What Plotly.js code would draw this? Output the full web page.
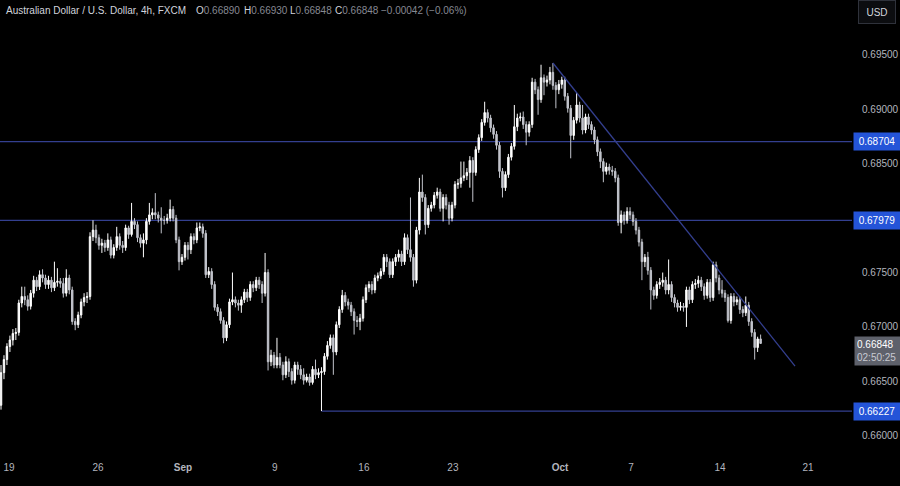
<!DOCTYPE html>
<html><head><meta charset="utf-8">
<script src="https://cdn.plot.ly/plotly-3.0.1.min.js"></script>
<style>html,body{margin:0;padding:0;background:#000;}#chart{width:900px;height:486px;}</style>
</head><body><div id="chart"></div>
<script>
const opens = [0.6628,0.6658,0.6670,0.6682,0.6688,0.6694,0.6695,0.6722,0.6728,0.6725,0.6719,0.6731,0.6743,0.6737,0.6748,0.6745,0.6739,0.6743,0.6736,0.6741,
0.6742,0.6740,0.6731,0.6745,0.6734,0.6705,0.6702,0.6711,0.6723,0.6727,0.6728,0.6783,0.6789,0.6782,0.6775,0.6777,0.6773,0.6780,0.6766,0.6773,
0.6783,0.6775,0.6773,0.6791,0.6785,0.6797,0.6794,0.6782,0.6777,0.6780,0.6797,0.6803,0.6805,0.6803,0.6800,0.6798,0.6798,0.6800,0.6808,0.6800,
0.6780,0.6760,0.6764,0.6775,0.6771,0.6783,0.6780,0.6791,0.6792,0.6786,0.6748,0.6751,0.6739,0.6718,0.6714,0.6706,0.6690,0.6702,0.6723,0.6725,
0.6722,0.6720,0.6725,0.6732,0.6727,0.6739,0.6736,0.6743,0.6739,0.6731,0.6750,0.6668,0.6674,0.6665,0.6672,0.6665,0.6656,0.6668,0.6659,0.6651,
0.6665,0.6661,0.6656,0.6651,0.6654,0.6649,0.6661,0.6656,0.6658,0.6659,0.6673,0.6683,0.6690,0.6677,0.6702,0.6716,0.6729,0.6723,0.6720,0.6714,
0.6706,0.6705,0.6708,0.6725,0.6736,0.6739,0.6734,0.6745,0.6747,0.6751,0.6764,0.6760,0.6748,0.6760,0.6764,0.6767,0.6760,0.6782,0.6771,0.6764,
0.6743,0.6789,0.6824,0.6819,0.6794,0.6809,0.6812,0.6821,0.6824,0.6809,0.6819,0.6812,0.6800,0.6812,0.6831,0.6832,0.6837,0.6839,0.6842,0.6853,
0.6842,0.6863,0.6874,0.6888,0.6897,0.6892,0.6883,0.6877,0.6867,0.6843,0.6828,0.6840,0.6856,0.6866,0.6884,0.6892,0.6893,0.6886,0.6879,0.6886,
0.6925,0.6918,0.6909,0.6929,0.6925,0.6927,0.6934,0.6922,0.6918,0.6923,0.6927,0.6912,0.6901,0.6876,0.6890,0.6904,0.6892,0.6881,0.6893,0.6886,
0.6881,0.6872,0.6861,0.6852,0.6843,0.6847,0.6844,0.6843,0.6837,0.6796,0.6803,0.6798,0.6806,0.6803,0.6797,0.6789,0.6778,0.6760,0.6764,0.6752,
0.6734,0.6729,0.6739,0.6741,0.6743,0.6734,0.6739,0.6727,0.6722,0.6718,0.6719,0.6718,0.6734,0.6725,0.6739,0.6740,0.6743,0.6737,0.6729,0.6741,
0.6727,0.6757,0.6745,0.6734,0.6731,0.6727,0.6706,0.6728,0.6723,0.6725,0.6716,0.6713,0.6720,0.6705,0.6695,0.6681,0.66890];
const highs = [0.6665,0.6674,0.6685,0.6692,0.6698,0.6699,0.6725,0.6737,0.6737,0.6729,0.6734,0.6747,0.6746,0.6752,0.6753,0.6748,0.6747,0.6746,0.6760,0.6754,
0.6745,0.6745,0.6753,0.6748,0.6737,0.6708,0.6714,0.6726,0.6731,0.6732,0.6787,0.6798,0.6794,0.6785,0.6781,0.6780,0.6786,0.6783,0.6776,0.6792,
0.6786,0.6779,0.6794,0.6793,0.6814,0.6800,0.6797,0.6785,0.6786,0.6800,0.6814,0.6809,0.6823,0.6806,0.6810,0.6802,0.6804,0.6817,0.6811,0.6803,
0.6783,0.6767,0.6778,0.6778,0.6786,0.6786,0.6796,0.6796,0.6795,0.6789,0.6755,0.6754,0.6742,0.6721,0.6717,0.6709,0.6705,0.6726,0.6750,0.6728,
0.6725,0.6728,0.6735,0.6735,0.6742,0.6742,0.6746,0.6746,0.6742,0.6768,0.6753,0.6679,0.6677,0.6690,0.6676,0.6668,0.6673,0.6671,0.6662,0.6668,
0.6668,0.6665,0.6662,0.6657,0.6657,0.6664,0.6670,0.6662,0.6663,0.6676,0.6687,0.6693,0.6693,0.6705,0.6719,0.6734,0.6732,0.6726,0.6723,0.6717,
0.6710,0.6712,0.6728,0.6739,0.6742,0.6742,0.6748,0.6750,0.6754,0.6767,0.6767,0.6763,0.6763,0.6767,0.6771,0.6770,0.6786,0.6785,0.6819,0.6767,
0.6792,0.6837,0.6840,0.6822,0.6812,0.6815,0.6824,0.6828,0.6827,0.6822,0.6822,0.6815,0.6815,0.6834,0.6836,0.6852,0.6852,0.6846,0.6857,0.6856,
0.6866,0.6877,0.6891,0.6907,0.6900,0.6895,0.6886,0.6880,0.6870,0.6846,0.6843,0.6859,0.6869,0.6904,0.6896,0.6897,0.6898,0.6889,0.6889,0.6929,
0.6928,0.6921,0.6941,0.6932,0.6931,0.6939,0.69426,0.6925,0.6927,0.6930,0.6930,0.6915,0.6904,0.6893,0.6915,0.6907,0.6904,0.6896,0.6896,0.6889,
0.6884,0.6875,0.6864,0.6855,0.6851,0.6850,0.6848,0.6846,0.6840,0.6807,0.6806,0.6810,0.6810,0.6806,0.6800,0.6792,0.6781,0.6767,0.6769,0.6755,
0.6737,0.6742,0.6745,0.6750,0.6746,0.6762,0.6742,0.6730,0.6725,0.6723,0.6722,0.6737,0.6737,0.6742,0.6744,0.6747,0.6746,0.6740,0.6744,0.6744,
0.6760,0.6760,0.6748,0.6743,0.6734,0.6730,0.6731,0.6731,0.6728,0.6728,0.6719,0.6728,0.6723,0.6708,0.6698,0.6691,0.66930];
const lows = [0.6624,0.6652,0.6665,0.6677,0.6683,0.6688,0.6692,0.6718,0.6720,0.6715,0.6716,0.6727,0.6733,0.6734,0.6741,0.6735,0.6735,0.6732,0.6733,0.6737,
0.6736,0.6727,0.6728,0.6730,0.6702,0.6697,0.6699,0.6708,0.6719,0.6722,0.6725,0.6779,0.6777,0.6771,0.6768,0.6769,0.6770,0.6763,0.6763,0.6770,
0.6771,0.6768,0.6770,0.6781,0.6783,0.6790,0.6778,0.6773,0.6764,0.6776,0.6794,0.6799,0.6799,0.6796,0.6786,0.6794,0.6795,0.6797,0.6797,0.6777,
0.6752,0.6757,0.6761,0.6762,0.6767,0.6776,0.6777,0.6788,0.6782,0.6745,0.6745,0.6735,0.6715,0.6710,0.6703,0.6685,0.6687,0.6699,0.6720,0.6718,
0.6715,0.6713,0.6722,0.6723,0.6724,0.6732,0.6733,0.6735,0.6722,0.6728,0.6660,0.6664,0.6662,0.6662,0.6662,0.6651,0.6653,0.6654,0.6647,0.6648,
0.6656,0.6652,0.6647,0.6649,0.6646,0.6647,0.6652,0.6653,0.66227,0.6656,0.6670,0.6680,0.6656,0.6674,0.6699,0.6713,0.6719,0.6716,0.6710,0.6693,
0.6700,0.6697,0.6705,0.6722,0.6732,0.6730,0.6731,0.6742,0.6744,0.6748,0.6755,0.6745,0.6745,0.6756,0.6760,0.6756,0.6757,0.6767,0.6760,0.6737,
0.6740,0.6785,0.6815,0.6785,0.6791,0.6806,0.6809,0.6818,0.6806,0.6797,0.6808,0.6794,0.6797,0.6809,0.6827,0.6828,0.6834,0.6835,0.6828,0.6815,
0.6839,0.6860,0.6871,0.6885,0.6888,0.6879,0.6873,0.6863,0.6837,0.6819,0.6825,0.6837,0.6853,0.6863,0.6880,0.6889,0.6882,0.6867,0.6875,0.6883,
0.6914,0.6895,0.6906,0.6913,0.6921,0.6923,0.6918,0.6901,0.6914,0.6919,0.6908,0.6897,0.6855,0.6872,0.6887,0.6888,0.6877,0.6878,0.6882,0.6877,
0.6868,0.6857,0.6846,0.6833,0.6840,0.6840,0.6839,0.6833,0.6793,0.6786,0.6794,0.6795,0.6799,0.6793,0.6785,0.6774,0.6743,0.6755,0.6748,0.6716,
0.6725,0.6726,0.6735,0.6737,0.6730,0.6730,0.6723,0.6718,0.6714,0.6715,0.6714,0.6700,0.6721,0.6722,0.6735,0.6736,0.6733,0.6725,0.6726,0.6723,
0.6724,0.6741,0.6730,0.6727,0.6723,0.6704,0.6703,0.6719,0.6720,0.6712,0.6709,0.6710,0.6701,0.6691,0.6670,0.6677,0.66848];
const closes = [0.6658,0.6670,0.6682,0.6688,0.6694,0.6695,0.6722,0.6728,0.6725,0.6719,0.6731,0.6743,0.6737,0.6748,0.6745,0.6739,0.6743,0.6736,0.6741,0.6742,
0.6740,0.6731,0.6745,0.6734,0.6705,0.6702,0.6711,0.6723,0.6727,0.6728,0.6783,0.6789,0.6782,0.6775,0.6777,0.6773,0.6780,0.6766,0.6773,0.6783,
0.6775,0.6773,0.6791,0.6785,0.6797,0.6794,0.6782,0.6777,0.6780,0.6797,0.6803,0.6805,0.6803,0.6800,0.6798,0.6798,0.6800,0.6808,0.6800,0.6780,
0.6760,0.6764,0.6775,0.6771,0.6783,0.6780,0.6791,0.6792,0.6786,0.6748,0.6751,0.6739,0.6718,0.6714,0.6706,0.6690,0.6702,0.6723,0.6725,0.6722,
0.6720,0.6725,0.6732,0.6727,0.6739,0.6736,0.6743,0.6739,0.6731,0.6750,0.6668,0.6674,0.6665,0.6672,0.6665,0.6656,0.6668,0.6659,0.6651,0.6665,
0.6661,0.6656,0.6651,0.6654,0.6649,0.6661,0.6656,0.6658,0.6659,0.6673,0.6683,0.6690,0.6677,0.6702,0.6716,0.6729,0.6723,0.6720,0.6714,0.6706,
0.6705,0.6708,0.6725,0.6736,0.6739,0.6734,0.6745,0.6747,0.6751,0.6764,0.6760,0.6748,0.6760,0.6764,0.6767,0.6760,0.6782,0.6771,0.6764,0.6743,
0.6789,0.6824,0.6819,0.6794,0.6809,0.6812,0.6821,0.6824,0.6809,0.6819,0.6812,0.6800,0.6812,0.6831,0.6832,0.6837,0.6839,0.6842,0.6853,0.6842,
0.6863,0.6874,0.6888,0.6897,0.6892,0.6883,0.6877,0.6867,0.6843,0.6828,0.6840,0.6856,0.6866,0.6884,0.6892,0.6893,0.6886,0.6879,0.6886,0.6925,
0.6918,0.6909,0.6929,0.6925,0.6927,0.6934,0.6922,0.6918,0.6923,0.6927,0.6912,0.6901,0.6876,0.6890,0.6904,0.6892,0.6881,0.6893,0.6886,0.6881,
0.6872,0.6861,0.6852,0.6843,0.6847,0.6844,0.6843,0.6837,0.6796,0.6803,0.6798,0.6806,0.6803,0.6797,0.6789,0.6778,0.6760,0.6764,0.6752,0.6734,
0.6729,0.6739,0.6741,0.6743,0.6734,0.6739,0.6727,0.6722,0.6718,0.6719,0.6718,0.6734,0.6725,0.6739,0.6740,0.6743,0.6737,0.6729,0.6741,0.6727,
0.6757,0.6745,0.6734,0.6731,0.6727,0.6706,0.6728,0.6723,0.6725,0.6716,0.6713,0.6720,0.6705,0.6695,0.6681,0.6689,0.66848];

// x-axis labels (bar-index positions of the day labels)
const tickPos = [2.7, 32.7, 61.3, 92.3, 122.3, 152.3, 188.4, 212.3, 242.3, 272];
const tickText = ['19','26','<b>Sep</b>','9','16','23','<b>Oct</b>','7','14','21'];
// 0.680 is hidden behind the 0.67979 level label in the reference
const priceTicks = [0.660,0.665,0.670,0.675,0.685,0.690,0.695];

// drawn levels
const levels = [0.68704, 0.67979];
const supportLevel = 0.66227, supportStart = 108;
const trendX = [186, 267.6];
const trendY = [0.69426, 0.6664];
const lastPrice = 0.66848, countdown = '02:50:25';

const xs = closes.map((_, i) => i);
const xMin = -0.34, xMax = 286.8;
const lineCol = '#333f8f';
const gray = '#b2b5be';
const FONT = 'Liberation Sans, Arial, sans-serif';

const traces = [
  {type:'candlestick', x: xs, open: opens, high: highs, low: lows, close: closes,
   increasing:{line:{color:'#ffffff', width:1}, fillcolor:'#ffffff'},
   decreasing:{line:{color:'#c2c4cc', width:1}, fillcolor:'#c2c4cc'},
   whiskerwidth:0, hoverinfo:'skip', showlegend:false},
  {type:'scatter', mode:'lines', x: trendX, y: trendY, line:{color:lineCol, width:1.3}, hoverinfo:'skip', showlegend:false}
];

const shapes = levels.map(v => ({type:'line', xref:'paper', yref:'y', x0:0, x1:1, y0:v, y1:v, line:{color:lineCol, width:1.3}, layer:'below'}));
shapes.push({type:'line', xref:'x', yref:'y', x0:supportStart, x1:xMax, y0:supportLevel, y1:supportLevel, line:{color:lineCol, width:1.3}, layer:'below'});

const annotations = [];
[...levels, supportLevel].forEach(v => annotations.push({
  xref:'paper', yref:'y', x:1, y:v, xanchor:'left', yanchor:'middle', xshift:1,
  text: v.toFixed(5), showarrow:false, bgcolor:'#2454d8', borderpad:2, width:42, height:13,
  font:{family:FONT, size:10, color:'#ffffff'}
}));
annotations.push({
  xref:'paper', yref:'y', x:1, y:lastPrice, xanchor:'left', yanchor:'top', xshift:2, yshift:7,
  text: lastPrice.toFixed(5) + '<br><span style="color:#c8cad2">' + countdown + '</span>', align:'left',
  showarrow:false, bgcolor:'#5e616b', borderpad:2, width:42,
  font:{family:FONT, size:10, color:'#ffffff'}
});
annotations.push({
  xref:'paper', yref:'paper', x:877/852, y:1-12/460, xanchor:'center', yanchor:'middle',
  text:'USD', showarrow:false, bgcolor:'#0c0d10', bordercolor:'#2f323b', borderwidth:1, borderpad:4, width:28, height:14,
  font:{family:FONT, size:10, color:'#d1d4dc'}
});
const header = [
  [4, '<span style="color:#d1d4dc">Australian Dollar / U.S. Dollar, 4h, FXCM</span>'],
  [194, '<span style="color:#d1d4dc">O</span><span style="color:#868993">' + opens[opens.length-1].toFixed(5) + '</span>'],
  [242, '<span style="color:#d1d4dc">H</span><span style="color:#868993">' + highs[highs.length-1].toFixed(5) + '</span>'],
  [288, '<span style="color:#d1d4dc">L</span><span style="color:#868993">' + lows[lows.length-1].toFixed(5) + '</span>'],
  [333, '<span style="color:#d1d4dc">C</span><span style="color:#868993">' + closes[closes.length-1].toFixed(5) + '</span>'],
  [379, '<span style="color:#868993">\u22120.00042 (\u22120.06%)</span>']
];
header.forEach(h => annotations.push({
  xref:'paper', yref:'paper', x:h[0]/852, y:1-11/460, xanchor:'left', yanchor:'middle',
  text:h[1], showarrow:false, font:{family:FONT, size:10, color:'#d1d4dc'}
}));

const layout = {
  width:900, height:486, margin:{l:0, r:48, t:0, b:26},
  paper_bgcolor:'#000000', plot_bgcolor:'#000000',
  font:{family:FONT, size:10, color:gray},
  showlegend:false, hovermode:false,
  xaxis:{range:[xMin, xMax], tickvals:tickPos, ticktext:tickText, showgrid:false, zeroline:false, showline:false,
         ticks:'', tickfont:{size:10, color:gray}, rangeslider:{visible:false}, fixedrange:true},
  yaxis:{side:'right', range:[0.65777, 0.70005], tickvals:priceTicks, tickformat:'.5f', showgrid:false, zeroline:false,
         showline:false, ticks:'', ticklabelstandoff:9, tickfont:{size:10, color:gray}, fixedrange:true},
  shapes:shapes, annotations:annotations
};
Plotly.newPlot('chart', traces, layout, {staticPlot:true, displayModeBar:false});
</script></body></html>
